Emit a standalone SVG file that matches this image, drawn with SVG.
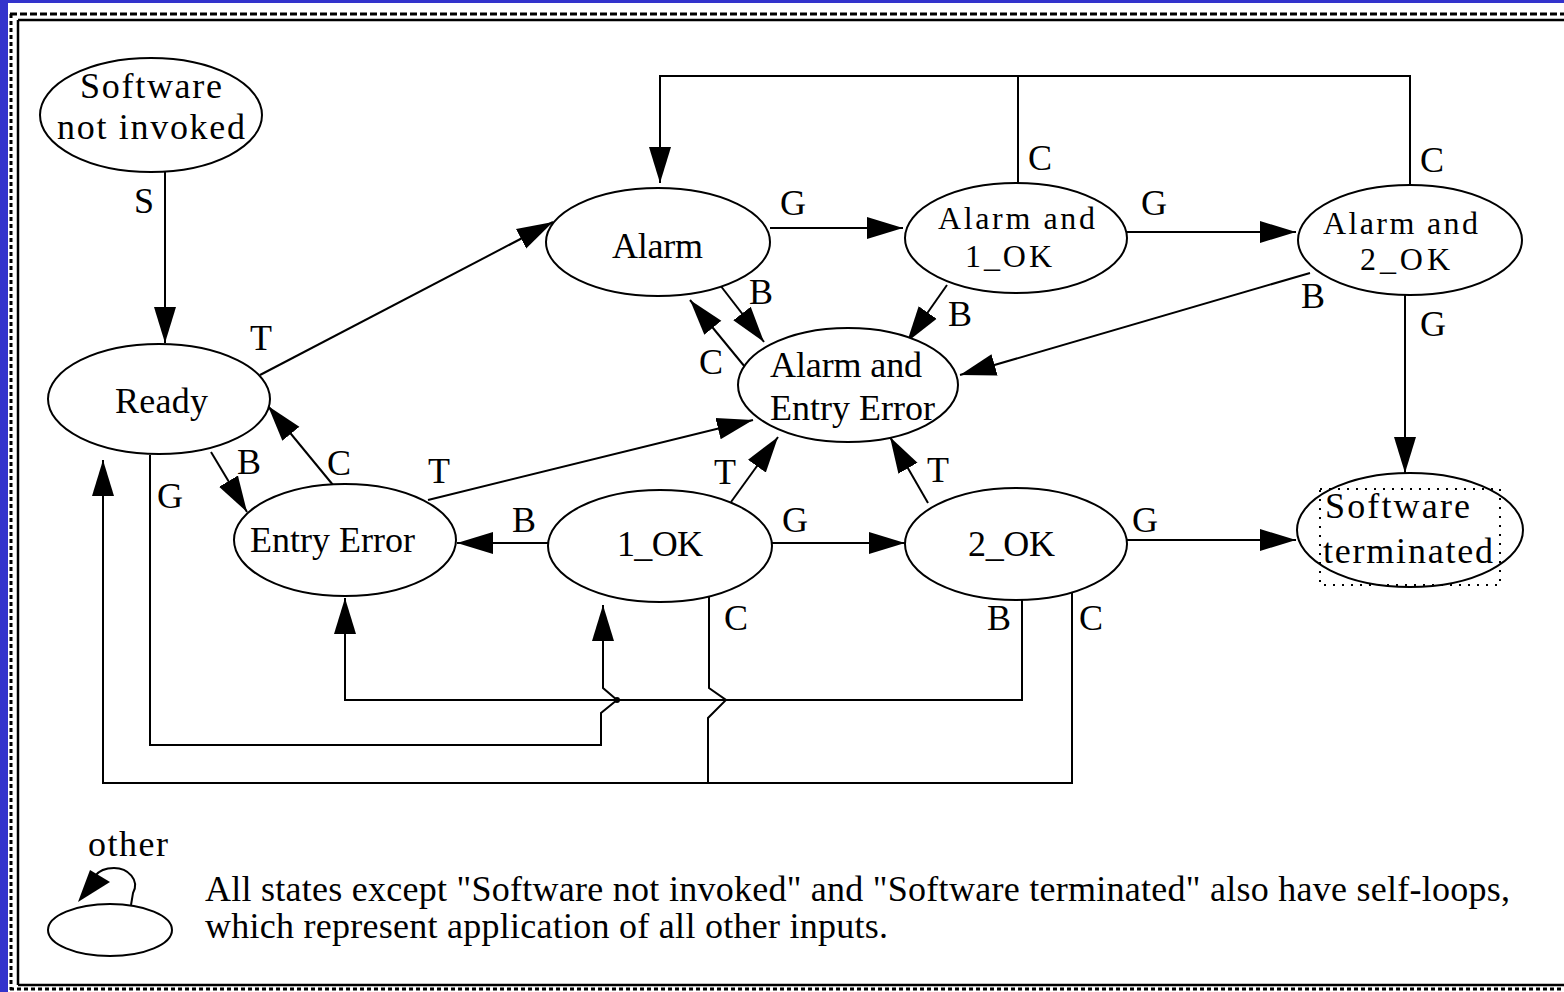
<svg xmlns="http://www.w3.org/2000/svg" width="1564" height="992" viewBox="0 0 1564 992">
<style>
.n{fill:#fff;stroke:#000;stroke-width:2}
.t{font-family:"Liberation Serif","Times New Roman",serif;font-size:36px;fill:#000}
.s{font-size:32px}
.e{fill:none;stroke:#000;stroke-width:2}
.a{marker-end:url(#ah)}
.b{fill:none;stroke:#000}
</style>
<defs>
<marker id="ah" markerUnits="userSpaceOnUse" markerWidth="38" markerHeight="24" refX="36" refY="12" orient="auto" viewBox="0 0 38 24">
<path d="M0,1 L36,12 L0,23 Z" fill="#000"/>
</marker>
</defs>
<rect x="0" y="0" width="1564" height="992" fill="#3333cc"/>
<rect x="8" y="3" width="1556" height="989" fill="#fff"/>
<g id="frame">
<line class="b" x1="10" y1="14" x2="1564" y2="14" stroke-width="3" stroke-dasharray="7,3"/>
<line class="b" x1="11" y1="14" x2="11" y2="990" stroke-width="3" stroke-dasharray="4,3"/>
<line class="b" x1="18" y1="20" x2="1564" y2="20" stroke-width="2.5"/>
<line class="b" x1="18" y1="20" x2="18" y2="985" stroke-width="2.5"/>
<line class="b" x1="18" y1="985" x2="1564" y2="985" stroke-width="2.5"/>
<line class="b" x1="10" y1="989" x2="1564" y2="989" stroke-width="3" stroke-dasharray="4,3"/>
</g>
<g id="connectors">
<line class="e a" x1="165" y1="172" x2="165" y2="343"/>
<line class="e a" x1="260" y1="375" x2="553" y2="222"/>
<polyline class="e" points="1018,184 1018,76"/>
<polyline class="e a" points="1410,185 1410,76 660,76 660,183"/>
<line class="e a" x1="770" y1="228" x2="903" y2="228"/>
<line class="e a" x1="1127" y1="232" x2="1296" y2="232"/>
<line class="e a" x1="720" y1="285" x2="764" y2="342"/>
<line class="e a" x1="745" y1="367" x2="690" y2="300"/>
<line class="e a" x1="947" y1="285" x2="907" y2="342"/>
<line class="e a" x1="1310" y1="273" x2="960" y2="375"/>
<line class="e a" x1="1405" y1="295" x2="1405" y2="473"/>
<line class="e a" x1="211" y1="452" x2="247" y2="512"/>
<line class="e a" x1="333" y1="485" x2="268" y2="406"/>
<line class="e a" x1="428" y1="500" x2="753" y2="420"/>
<line class="e a" x1="548" y1="543" x2="457" y2="543"/>
<line class="e a" x1="731" y1="502" x2="778" y2="437"/>
<line class="e a" x1="771" y1="543" x2="905" y2="543"/>
<line class="e a" x1="928" y1="503" x2="890" y2="437"/>
<line class="e a" x1="1127" y1="540" x2="1296" y2="540"/>
<polyline class="e a" points="1022,597 1022,700 345,700 345,598"/>
<polyline class="e a" points="1072,590 1072,783 103,783 103,460"/>
<polyline class="e" points="709,596 709,688 726,700 708,718 708,783"/>
<polyline class="e a" points="150,455 150,745 601,745 601,713 617,700 603,688 603,605"/>
<circle cx="617" cy="700" r="3" fill="#000"/>
<text class="t" x="134" y="213">S</text>
<text class="t" x="250" y="350">T</text>
<text class="t" x="1028" y="170">C</text>
<text class="t" x="1420" y="172">C</text>
<text class="t" x="780" y="215">G</text>
<text class="t" x="1141" y="215">G</text>
<text class="t" x="749" y="304">B</text>
<text class="t" x="699" y="374">C</text>
<text class="t" x="948" y="326">B</text>
<text class="t" x="1301" y="308">B</text>
<text class="t" x="1420" y="336">G</text>
<text class="t" x="237" y="474">B</text>
<text class="t" x="327" y="475">C</text>
<text class="t" x="428" y="483">T</text>
<text class="t" x="157" y="508">G</text>
<text class="t" x="714" y="484">T</text>
<text class="t" x="927" y="482">T</text>
<text class="t" x="512" y="532">B</text>
<text class="t" x="782" y="532">G</text>
<text class="t" x="1132" y="532">G</text>
<text class="t" x="724" y="630">C</text>
<text class="t" x="987" y="630">B</text>
<text class="t" x="1079" y="630">C</text>
</g>
<g id="n_not_invoked">
<ellipse class="n" cx="151" cy="115" rx="111" ry="57"/>
<text class="t" x="80" y="98" textLength="142">Software</text>
<text class="t" x="57" y="139" textLength="188">not invoked</text>
</g>
<g id="n_ready">
<ellipse class="n" cx="159" cy="399" rx="111" ry="55"/>
<text class="t" x="115" y="413" textLength="93">Ready</text>
</g>
<g id="n_alarm">
<ellipse class="n" cx="658" cy="242" rx="112" ry="54"/>
<text class="t" x="612" y="258" textLength="91">Alarm</text>
</g>
<g id="n_alarm_1ok">
<ellipse class="n" cx="1016" cy="238" rx="111" ry="55"/>
<text class="t s" x="938" y="229" textLength="157">Alarm and</text>
<text class="t s" x="965" y="267" textLength="87">1_OK</text>
</g>
<g id="n_alarm_2ok">
<ellipse class="n" cx="1410" cy="240" rx="112" ry="55"/>
<text class="t s" x="1323" y="234" textLength="155">Alarm and</text>
<text class="t s" x="1360" y="270" textLength="90">2_OK</text>
</g>
<g id="n_alarm_entry_error">
<ellipse class="n" cx="848" cy="385" rx="110" ry="57"/>
<text class="t" x="770" y="377" textLength="152">Alarm and</text>
<text class="t" x="770" y="420" textLength="165">Entry Error</text>
</g>
<g id="n_entry_error">
<ellipse class="n" cx="345" cy="540" rx="111" ry="56"/>
<text class="t" x="250" y="552" textLength="165">Entry Error</text>
</g>
<g id="n_1ok">
<ellipse class="n" cx="660" cy="546" rx="112" ry="56"/>
<text class="t" x="617" y="556" textLength="86">1_OK</text>
</g>
<g id="n_2ok">
<ellipse class="n" cx="1016" cy="544" rx="111" ry="56"/>
<text class="t" x="968" y="556" textLength="87">2_OK</text>
</g>
<g id="n_terminated">
<ellipse class="n" cx="1410" cy="530" rx="113" ry="57"/>
<rect x="1320" y="489" width="180" height="96" fill="none" stroke="#000" stroke-width="2" stroke-dasharray="2,7"/>
<text class="t" x="1325" y="518" textLength="145">Software</text>
<text class="t" x="1323" y="563" textLength="170">terminated</text>
</g>
<g id="legend">
<ellipse class="n" cx="110" cy="930" rx="62" ry="26"/>
<path class="e" d="M131,905 L133,893 C140,880 128,868 114,868 C104,868 98,872 95,876"/>
<polygon points="78,902 90,870 110,882" fill="#000"/>
<text class="t" x="88" y="856" textLength="80">other</text>
<text class="t" x="205" y="901" textLength="1305">All states except "Software not invoked" and "Software terminated" also have self-loops,</text>
<text class="t" x="205" y="938" textLength="683">which represent application of all other inputs.</text>
</g>
</svg>
